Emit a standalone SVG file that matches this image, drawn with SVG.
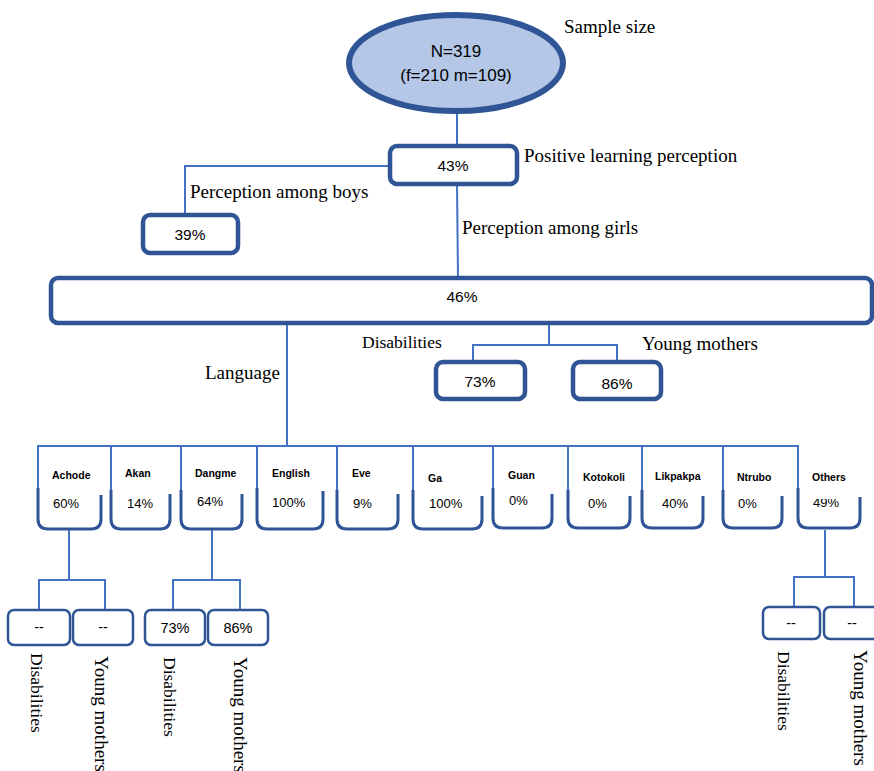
<svg xmlns="http://www.w3.org/2000/svg" width="874" height="771" viewBox="0 0 874 771">
<style>
.bg{fill:#ffffff}
.box{fill:#ffffff;stroke:#2f5597;stroke-width:4.5}
.sbox{fill:#ffffff;stroke:#2f5597;stroke-width:2.5}
.ubox{fill:none;stroke:#2f5597;stroke-width:3;stroke-linejoin:round}
.con{fill:none;stroke:#4472c4;stroke-width:2}
.v{font-family:"Liberation Sans",Arial,sans-serif;font-size:15.5px;fill:#000}
.e{font-family:"Liberation Sans",Arial,sans-serif;font-size:17px;fill:#000}
.p{font-family:"Liberation Sans",Arial,sans-serif;font-size:13px;fill:#000}
.q{font-family:"Liberation Sans",Arial,sans-serif;font-size:14.5px;fill:#000}
.b{font-family:"Liberation Sans",Arial,sans-serif;font-size:10.5px;font-weight:bold;fill:#000}
.t{font-family:"Liberation Serif","Times New Roman",serif;font-size:19px;fill:#000}
.ts{font-family:"Liberation Serif","Times New Roman",serif;font-size:17.5px;fill:#000}
</style>
<defs>
<clipPath id="othersClip"><rect x="790" y="499" width="80" height="30"/></clipPath>
</defs>
<rect class="bg" x="0" y="0" width="874" height="771"/>

<g id="connectors">
<line class="con" x1="457" y1="113" x2="457" y2="146"/>
<polyline class="con" points="390,166 185,166 185,215"/>
<line class="con" x1="457" y1="184" x2="458" y2="278"/>
<line class="con" x1="287" y1="323" x2="287" y2="446"/>
<polyline class="con" points="549,323 549,345"/>
<polyline class="con" points="473,362 473,345 617,345 617,362"/>
<line class="con" x1="37" y1="446" x2="799" y2="446"/>
<line class="con" x1="38" y1="446" x2="38" y2="490"/>
<line class="con" x1="111" y1="446" x2="111" y2="490"/>
<line class="con" x1="181" y1="446" x2="181" y2="490"/>
<line class="con" x1="257" y1="446" x2="257" y2="490"/>
<line class="con" x1="337" y1="446" x2="337" y2="490"/>
<line class="con" x1="413" y1="446" x2="413" y2="490"/>
<line class="con" x1="493" y1="446" x2="493" y2="490"/>
<line class="con" x1="568" y1="446" x2="568" y2="490"/>
<line class="con" x1="642" y1="446" x2="642" y2="490"/>
<line class="con" x1="723" y1="446" x2="723" y2="490"/>
<line class="con" x1="798" y1="446" x2="798" y2="490"/>
<line class="con" x1="69" y1="530" x2="69" y2="580"/>
<polyline class="con" points="39,610 39,580 105,580 105,610"/>
<line class="con" x1="212" y1="530" x2="212" y2="580"/>
<polyline class="con" points="173,610 173,580 240,580 240,610"/>
<line class="con" x1="825" y1="530" x2="825" y2="577"/>
<polyline class="con" points="794,607 794,577 854,577 854,607"/>
</g>

<g id="sample">
<ellipse cx="456" cy="63" rx="107" ry="48" fill="#b4c7e7" stroke="#2f5597" stroke-width="6"/>
<text class="e" x="456" y="57" text-anchor="middle">N=319</text>
<text class="e" x="456" y="81" text-anchor="middle">(f=210 m=109)</text>
<text class="t" x="564" y="33">Sample size</text>
</g>

<g id="positive">
<rect class="box" x="390" y="146" width="127" height="38" rx="7"/>
<text class="v" x="453" y="171" text-anchor="middle">43%</text>
<text class="t" x="524" y="162">Positive learning perception</text>
</g>

<g id="boys">
<rect class="box" x="143" y="215" width="95" height="38" rx="7"/>
<text class="v" x="190" y="240" text-anchor="middle">39%</text>
<text class="t" x="190" y="198">Perception among boys</text>
</g>

<g id="girls">
<rect class="box" x="51" y="278" width="821" height="45" rx="7"/>
<text class="v" x="462" y="302" text-anchor="middle">46%</text>
<text class="t" x="462" y="234">Perception among girls</text>
</g>

<g id="disabilities">
<rect class="box" x="436" y="362" width="89" height="37" rx="7"/>
<text class="v" x="480" y="387" text-anchor="middle">73%</text>
<text class="ts" x="362" y="348">Disabilities</text>
</g>

<g id="youngmothers">
<rect class="box" x="573" y="362" width="88" height="37" rx="7"/>
<text class="v" x="617" y="389" text-anchor="middle">86%</text>
<text class="t" x="642" y="350">Young mothers</text>
</g>

<g id="language">
<text class="t" x="205" y="379">Language</text>
</g>

<g id="achode">
<path class="ubox" d="M38,488 V519 Q38,529 48,529 H91 Q101,529 101,519 V495"/>
<text class="b" x="52" y="479">Achode</text>
<text class="p" x="53" y="508">60%</text>
</g>
<g id="akan">
<path class="ubox" d="M111,490 V519 Q111,529 121,529 H160 Q170,529 170,519 V494"/>
<text class="b" x="125" y="477">Akan</text>
<text class="p" x="127" y="508">14%</text>
</g>
<g id="dangme">
<path class="ubox" d="M181,490 V519 Q181,529 191,529 H232 Q242,529 242,519 V494"/>
<text class="b" x="195" y="477">Dangme</text>
<text class="p" x="197" y="506">64%</text>
</g>
<g id="english">
<path class="ubox" d="M257,488 V519 Q257,529 267,529 H313 Q323,529 323,519 V491"/>
<text class="b" x="272" y="477">English</text>
<text class="p" x="272" y="507">100%</text>
</g>
<g id="eve">
<path class="ubox" d="M337,490 V519 Q337,529 347,529 H388 Q398,529 398,519 V494"/>
<text class="b" x="352" y="477">Eve</text>
<text class="p" x="353" y="508">9%</text>
</g>
<g id="ga">
<path class="ubox" d="M413,490 V519 Q413,529 423,529 H472 Q482,529 482,519 V496"/>
<text class="b" x="428" y="482">Ga</text>
<text class="p" x="429" y="508">100%</text>
</g>
<g id="guan">
<path class="ubox" d="M493,488 V518 Q493,528 503,528 H542 Q552,528 552,518 V494"/>
<text class="b" x="508" y="479">Guan</text>
<text class="p" x="509" y="505">0%</text>
</g>
<g id="kotokoli">
<path class="ubox" d="M568,490 V518 Q568,528 578,528 H620 Q630,528 630,518 V496"/>
<text class="b" x="583" y="481">Kotokoli</text>
<text class="p" x="588" y="508">0%</text>
</g>
<g id="likpakpa">
<path class="ubox" d="M642,490 V518 Q642,528 652,528 H693 Q703,528 703,518 V496"/>
<text class="b" x="655" y="480">Likpakpa</text>
<text class="p" x="662" y="508">40%</text>
</g>
<g id="ntrubo">
<path class="ubox" d="M723,490 V518 Q723,528 733,528 H772 Q782,528 782,518 V496"/>
<text class="b" x="737" y="481">Ntrubo</text>
<text class="p" x="738" y="508">0%</text>
</g>
<g id="others">
<path class="ubox" d="M798,488 V518 Q798,528 808,528 H850 Q860,528 860,518 V497"/>
<text class="b" x="812" y="481">Others</text>
<text class="p" x="813" y="507" clip-path="url(#othersClip)">49%</text>
</g>

<g id="achode-disabilities">
<rect class="sbox" x="8" y="610" width="62" height="35" rx="6"/>
<text class="q" x="39" y="632" text-anchor="middle">--</text>
<text class="ts" transform="translate(31,653) rotate(90)">Disabilities</text>
</g>
<g id="achode-youngmothers">
<rect class="sbox" x="73" y="610" width="60" height="35" rx="6"/>
<text class="q" x="103" y="632" text-anchor="middle">--</text>
<text class="t" transform="translate(95,656) rotate(90)">Young mothers</text>
</g>
<g id="dangme-disabilities">
<rect class="sbox" x="145" y="610" width="60" height="35" rx="6"/>
<text class="q" x="175" y="633" text-anchor="middle">73%</text>
<text class="ts" transform="translate(164,657) rotate(90)">Disabilities</text>
</g>
<g id="dangme-youngmothers">
<rect class="sbox" x="208" y="610" width="60" height="35" rx="6"/>
<text class="q" x="238" y="633" text-anchor="middle">86%</text>
<text class="t" transform="translate(234,657) rotate(90)">Young mothers</text>
</g>
<g id="others-disabilities">
<rect class="sbox" x="763" y="607" width="57" height="32" rx="6"/>
<text class="q" x="791" y="628" text-anchor="middle">--</text>
<text class="ts" transform="translate(778,651) rotate(90)">Disabilities</text>
</g>
<g id="others-youngmothers">
<rect class="sbox" x="824" y="607" width="60" height="32" rx="6"/>
<text class="q" x="852" y="628" text-anchor="middle">--</text>
<text class="t" transform="translate(854,650) rotate(90)">Young mothers</text>
</g>
</svg>
